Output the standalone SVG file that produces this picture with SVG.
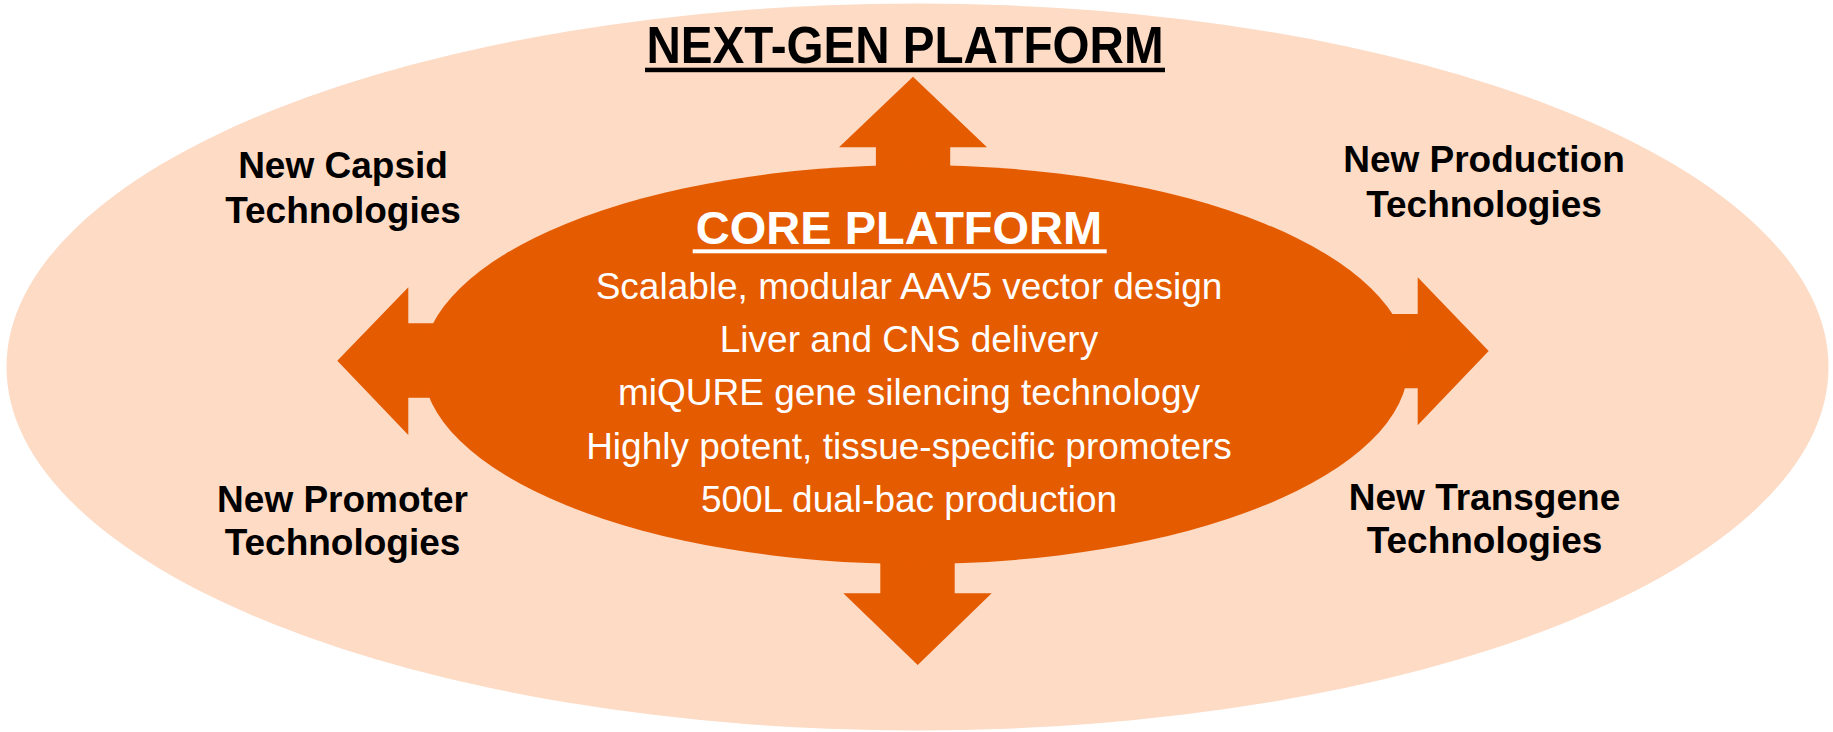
<svg xmlns="http://www.w3.org/2000/svg" width="1833" height="732" viewBox="0 0 1833 732">
  <style>
    .outer { fill: #FDDBC5; }
    .inner { fill: #E55B00; }
    .arrow { fill: #E55B00; }
    .label { font-family: "Liberation Sans", Arial, sans-serif; font-weight: bold; font-size: 37px; fill: #000000; text-anchor: middle; }
    .title { font-family: "Liberation Sans", Arial, sans-serif; font-weight: bold; font-size: 52px; fill: #000000; text-anchor: middle; }
    .coretitle { font-family: "Liberation Sans", Arial, sans-serif; font-weight: bold; font-size: 47px; fill: #FFFFFF; text-anchor: middle; }
    .body { font-family: "Liberation Sans", Arial, sans-serif; font-size: 37px; fill: #FFFFFF; text-anchor: middle; }
  </style>
  <rect width="1833" height="732" fill="#FFFFFF"/>

  <g id="next-gen-platform">
    <ellipse class="outer" cx="917.5" cy="367" rx="911" ry="363.5"/>
    <text class="title" x="905" y="63" textLength="517" lengthAdjust="spacingAndGlyphs">NEXT-GEN PLATFORM</text>
    <rect x="645" y="67.7" width="520" height="4.5" fill="#000000"/>
  </g>

  <g id="connectors">
    <polygon class="arrow" points="913,76.7 987,147.3 950.2,147.3 950.2,250 875.9,250 875.9,147.3 839,147.3"/>
    <polygon class="arrow" points="917.7,665 991.7,593.3 954.7,593.3 954.7,480 880.3,480 880.3,593.3 843.3,593.3"/>
    <polygon class="arrow" points="337.3,360.7 408.3,287.3 408.3,323.3 520,323.3 520,397.7 408.3,397.7 408.3,435"/>
    <polygon class="arrow" points="1488.7,351 1417.7,277.3 1417.7,314 1300,314 1300,388.3 1417.7,388.3 1417.7,425.3"/>
  </g>

  <g id="core-platform">
    <ellipse class="inner" cx="915.5" cy="364.5" rx="493" ry="199.5"/>
    <text class="coretitle" x="899" y="244.3">CORE PLATFORM</text>
    <rect x="692.7" y="249.3" width="414" height="4" fill="#FFFFFF"/>
    <text class="body" x="909" y="298.5">Scalable, modular AAV5 vector design</text>
    <text class="body" x="909" y="352.3">Liver and CNS delivery</text>
    <text class="body" x="909" y="405.3">miQURE gene silencing technology</text>
    <text class="body" x="909" y="458.6">Highly potent, tissue-specific promoters</text>
    <text class="body" x="909" y="512">500L dual-bac production</text>
  </g>

  <g id="new-capsid">
    <text class="label" x="343" y="178.3">New Capsid</text>
    <text class="label" x="343" y="222.7">Technologies</text>
  </g>

  <g id="new-production">
    <text class="label" x="1484" y="172.3">New Production</text>
    <text class="label" x="1484" y="216.7">Technologies</text>
  </g>

  <g id="new-promoter">
    <text class="label" x="342.5" y="511.7">New Promoter</text>
    <text class="label" x="342.5" y="555">Technologies</text>
  </g>

  <g id="new-transgene">
    <text class="label" x="1484.5" y="510">New Transgene</text>
    <text class="label" x="1484.5" y="553">Technologies</text>
  </g>
</svg>
